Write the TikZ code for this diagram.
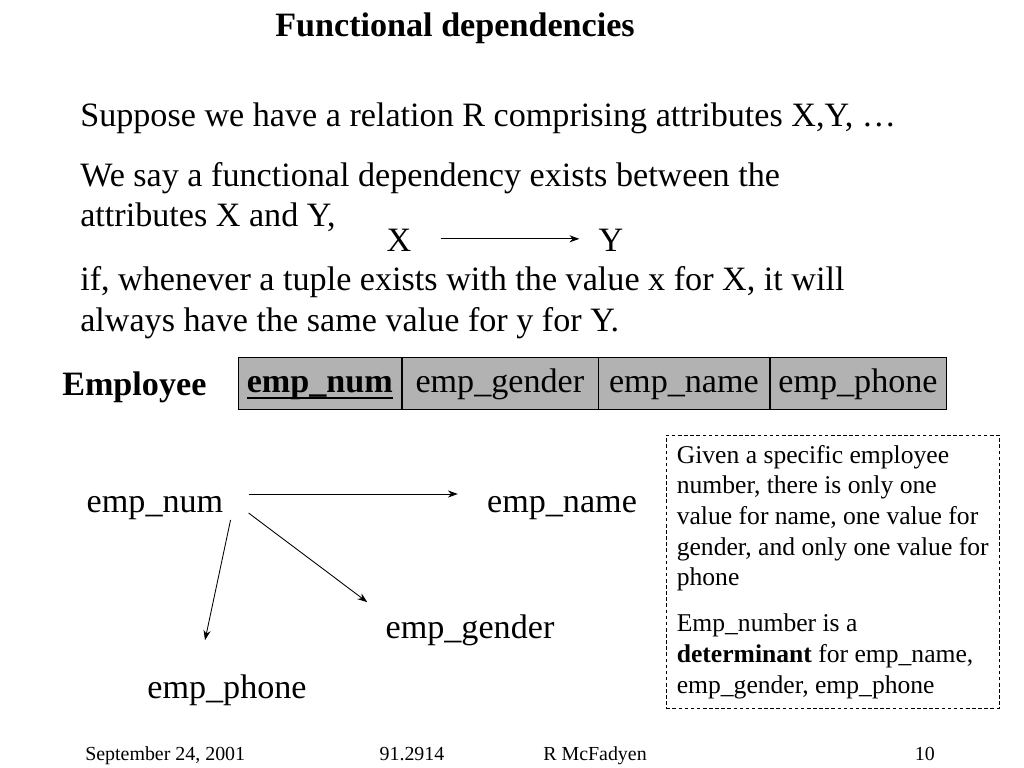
\documentclass[tikz,border=0pt]{standalone}
\usepackage{fontspec}
\setmainfont{Liberation Serif}
\usetikzlibrary{positioning,arrows.meta}
\newcommand{\slidefont}[2]{\fontsize{#1}{#2}\selectfont}
\newsavebox{\keybox}
\newcommand{\keyline}[1]{\sbox{\keybox}{#1}\rlap{\rule[-4.5pt]{\wd\keybox}{1.6pt}}\usebox{\keybox}}
\tikzset{
  line/.style={anchor=base west,inner sep=0pt,font=\slidefont{24}{29}},
  cell/.style={draw,fill=gray!60,minimum height=36.6pt,inner sep=0pt,
    text height=17pt,text depth=4pt,font=\slidefont{24}{29}},
  attr/.style={font=\slidefont{24}{29},inner sep=0pt},
  fd/.style={-{Stealth[length=7pt,width=5pt]},semithick},
  foot/.style={anchor=base,inner sep=0pt,font=\slidefont{14}{17}}
}
\begin{document}
\begin{tikzpicture}[x=0.703pt,y=-0.703pt]
    \useasboundingbox (0,0) rectangle (1024,768);

    % Titel
    \node[anchor=base,inner sep=0pt,font=\slidefont{24}{29}\bfseries] (title) at (455,36) {Functional dependencies};

    % Tekst bovenaan
    \node[line] (l1) at (80,126) {Suppose we have a relation R comprising attributes X,Y, \dots};
    \node[line] (l2) at (80,186) {We say a functional dependency exists between the};
    \node[line] (l3) at (80,226) {attributes X and Y,};
    \node[line] (l4) at (80,290) {if, whenever a tuple exists with the value x for X, it will};
    \node[line] (l5) at (80,331) {always have the same value for y for Y.};

    % X -> Y
    \node[attr,anchor=base] (x) at (399,251) {X};
    \node[attr,anchor=base] (y) at (611,251) {Y};
    \draw[fd] ([shift={(29,-1)}]x.east) -- ([shift={(-19,-1)}]y.west);

    % Tabel Employee
    \node[anchor=base west,inner sep=0pt,font=\slidefont{24}{29}\bfseries] (rel) at (62,395) {Employee};
    \node[cell,minimum width=114.6pt,anchor=north west] (c1) at (238,357) {\textbf{\keyline{emp\_num}}};
    \node[cell,minimum width=137.8pt,right=0pt of c1] (c2) {emp\_gender};
    \node[cell,minimum width=120.2pt,right=0pt of c2] (c3) {emp\_name};
    \node[cell,minimum width=123.7pt,right=0pt of c3] (c4) {emp\_phone};

    % Afhankelijkheden
    \node[attr] (num) at (155,508) {emp\_num};
    \node[attr] (name) at (562,508) {emp\_name};
    \node[attr] (gender) at (470,630) {emp\_gender};
    \node[attr] (phone) at (227,690) {emp\_phone};
    \draw[fd] ([shift={(25,-14)}]num.east) -- ([shift={(-29,-14)}]name.west);
    \draw[fd] ([shift={(25,5)}]num.east) -- ([shift={(-18,-12)}]gender.north west);
    \draw[fd] ([shift={(7,12)}]num.east) -- ([shift={(-22,-34)}]phone.north);

    % Opmerking
    \node[draw,dashed,dash pattern=on 2.5pt off 1.8pt,anchor=north west,
          minimum width=234pt,minimum height=192pt,inner sep=7pt,align=left,
          font=\slidefont{18}{21.5}] (note) at (666,435)
      {Given a specific employee\\
       number, there is only one\\
       value for name, one value for\\
       gender, and only one value for\\
       phone\\[11pt]
       Emp\_number is a\\
       \textbf{determinant} for emp\_name,\\
       emp\_gender, emp\_phone};

    % Voettekst
    \node[foot,anchor=base west] (date) at (85,760) {September 24, 2001};
    \node[foot] (course) at (412,760) {91.2914};
    \node[foot] (author) at (595,760) {R McFadyen};
    \node[foot,anchor=base east] (page) at (935,760) {10};
\end{tikzpicture}
\end{document}
